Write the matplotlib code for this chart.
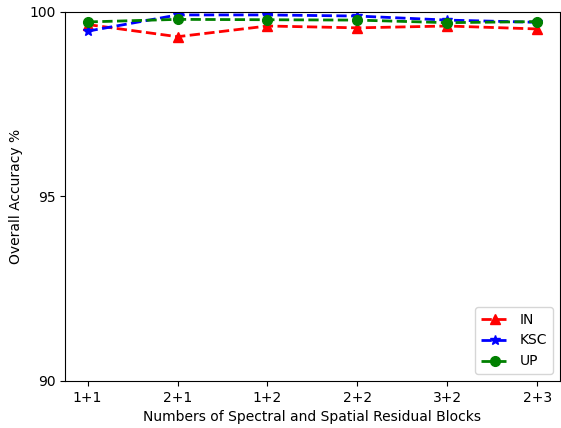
import matplotlib
matplotlib.use("Agg")
import matplotlib.pyplot as plt

categories = ["1+1", "2+1", "1+2", "2+2", "3+2", "2+3"]
in_vals = [99.66, 99.33, 99.62, 99.57, 99.62, 99.54]
ksc_vals = [99.48, 99.92, 99.92, 99.89, 99.78, 99.72]
up_vals = [99.73, 99.80, 99.79, 99.78, 99.71, 99.74]

fig = plt.figure(figsize=(5.61, 4.28), dpi=100)
ax = fig.add_axes([0.116, 0.110, 0.882, 0.862])
x = range(len(categories))
ax.plot(x, in_vals, "r--", marker="^", lw=2, ms=7, label="IN")
ax.plot(x, ksc_vals, "b--", marker="*", lw=2, ms=7, label="KSC")
ax.plot(x, up_vals, "g--", marker="o", lw=2, ms=7, label="UP")
ax.set_xticks(list(x))
ax.set_xticklabels(categories)
ax.set_ylim(90, 100)
ax.set_yticks([90, 95, 100])
ax.set_xlabel("Numbers of Spectral and Spatial Residual Blocks")
ax.set_ylabel("Overall Accuracy %")
ax.legend(loc="lower right")
fig.savefig("out.png", dpi=100)
